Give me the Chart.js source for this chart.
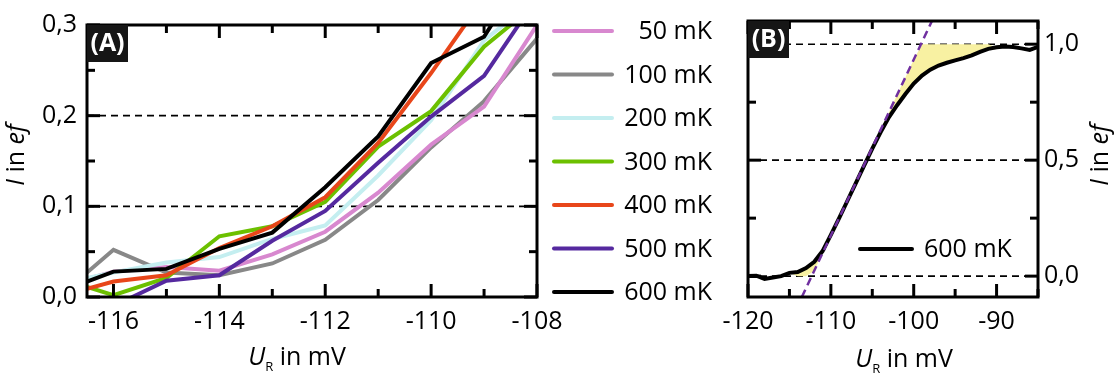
<!DOCTYPE html>
<html>
<head>
<meta charset="utf-8">
<script src="https://cdn.jsdelivr.net/npm/chart.js@4.4.0/dist/chart.umd.min.js"></script>
<style>
  html, body { margin: 0; padding: 0; background: #fff; }
  #wrap { position: relative; width: 1117px; height: 378px; overflow: hidden; }
  canvas { position: absolute; top: 0; }
  #chartA { left: 0; }
  #chartB { left: 690px; }
</style>
</head>
<body>
<div id="wrap">
  <canvas id="chartA" width="730" height="378"></canvas>
  <canvas id="chartB" width="427" height="378"></canvas>
</div>
<script>
// (A) current vs. reset voltage for several temperatures
const uA = [-116.5, -116, -115, -114, -113, -112, -111, -110, -109, -108];
const temps = ['50 mK', '100 mK', '200 mK', '300 mK', '400 mK', '500 mK', '600 mK'];
const i50  = [0.020, 0.028, 0.033, 0.029, 0.047, 0.072, 0.115, 0.168, 0.210, 0.300];
const i100 = [0.027, 0.052, 0.027, 0.024, 0.037, 0.063, 0.107, 0.165, 0.216, 0.285];
const i200 = [0.021, 0.027, 0.038, 0.044, 0.064, 0.079, 0.134, 0.195, 0.283, 0.330];
const i300 = [0.011, 0.002, 0.021, 0.067, 0.078, 0.105, 0.166, 0.205, 0.276, 0.324];
const i400 = [0.009, 0.017, 0.024, 0.054, 0.078, 0.110, 0.170, 0.247, 0.330, 0.420];
const i500 = [null, -0.010, 0.018, 0.024, 0.062, 0.095, 0.148, 0.199, 0.244, 0.330];
const i600A = [0.017, 0.028, 0.031, 0.053, 0.071, 0.121, 0.177, 0.258, 0.287, 0.380];
const seriesA = [i50, i100, i200, i300, i400, i500, i600A];
const majorXA = [-116, -114, -112, -110, -108];
const majorYA = [0, 0.1, 0.2, 0.3];

// (B) full step at 600 mK with linear fit
const uB = [-120, -119, -118, -117, -116, -115, -114, -113, -112, -111, -110, -109,
            -108, -107, -106, -105, -104, -103, -102, -101, -100, -99, -98, -97,
            -96, -95, -94, -93, -92, -91, -90, -89, -88, -87, -86, -85];
const i600B = [0.000, 0.002, -0.012, -0.006, 0.000, 0.014, 0.018, 0.035, 0.062, 0.108, 0.178, 0.250,
               0.325, 0.400, 0.475, 0.550, 0.620, 0.685, 0.737, 0.785, 0.830, 0.865, 0.890, 0.908,
               0.920, 0.930, 0.940, 0.952, 0.967, 0.980, 0.987, 0.990, 0.988, 0.982, 0.975, 0.988];
const fitU = [-113.5, -97.8];
const fitI = [-0.09, 1.1];
const shadeU = [-114, -91];
const majorXB = [-120, -110, -100, -90];
const majorYB = [0, 0.5, 1];

const colorsA = ['#d888cf', '#888888', '#c4eef0', '#6cc000', '#e8461a', '#55299f', '#000000'];
const drawOrder = [5, 6, 4, 3, 2, 1, 0];
const FONT = 'Open Sans';

const isIn = (list, v) => list.some(m => Math.abs(m - v) < 1e-6);
const decimal = v => v.toFixed(1).replace('.', ',');

function drawRich(ctx, parts, x, y, rotate) {
  ctx.save();
  ctx.translate(x, y);
  if (rotate) ctx.rotate(-Math.PI / 2);
  let w = 0;
  parts.forEach(p => { ctx.font = p.font; w += ctx.measureText(p.text).width; });
  let cx = -w / 2;
  ctx.textAlign = 'left';
  ctx.textBaseline = 'alphabetic';
  ctx.fillStyle = '#000';
  parts.forEach(p => {
    ctx.font = p.font;
    ctx.fillText(p.text, cx, p.dy || 0);
    cx += ctx.measureText(p.text).width;
  });
  ctx.restore();
}

const titleY = [
  {text: 'I', font: `italic 25px "${FONT}"`},
  {text: ' in ', font: `25px "${FONT}"`},
  {text: 'ef', font: `italic 25px "${FONT}"`}
];
const titleX = [
  {text: 'U', font: `italic 25px "${FONT}"`},
  {text: 'R', font: `13px "${FONT}"`, dy: 6},
  {text: ' in mV', font: `25px "${FONT}"`}
];

// frame, inward ticks, dashed reference lines, panel tag, axis titles, legend
const deco = {
  id: 'deco',
  beforeDatasetsDraw(chart, args, o) {
    const {ctx, chartArea: a} = chart;
    const y = chart.scales.y;
    ctx.save();
    ctx.strokeStyle = '#000';
    ctx.lineWidth = 1.6;
    ctx.setLineDash([7, 5]);
    o.dashAt.forEach(v => {
      const py = y.getPixelForValue(v);
      ctx.beginPath();
      ctx.moveTo(a.left, py);
      ctx.lineTo(a.right, py);
      ctx.stroke();
    });
    ctx.restore();
  },
  afterDatasetsDraw(chart, args, o) {
    const {ctx, chartArea: a} = chart;
    const x = chart.scales.x, y = chart.scales.y;
    ctx.save();
    ctx.strokeStyle = '#000';
    ctx.lineWidth = 3;
    ctx.strokeRect(a.left, a.top, a.right - a.left, a.bottom - a.top);
    const seg = (x1, y1, x2, y2) => { ctx.beginPath(); ctx.moveTo(x1, y1); ctx.lineTo(x2, y2); ctx.stroke(); };
    x.ticks.forEach(t => {
      const px = x.getPixelForValue(t.value);
      const len = isIn(o.majorX, t.value) ? 13 : 8;
      seg(px, a.bottom, px, a.bottom - len);
      seg(px, a.top, px, a.top + len);
    });
    y.ticks.forEach(t => {
      const py = y.getPixelForValue(t.value);
      const len = isIn(o.majorY, t.value) ? 13 : 8;
      seg(a.left, py, a.left + len, py);
      seg(a.right, py, a.right - len, py);
    });

    // panel tag
    ctx.fillStyle = '#161616';
    ctx.fillRect(a.left, a.top, 41, 37);
    ctx.fillStyle = '#fff';
    ctx.font = `bold 25px "${FONT}"`;
    ctx.textAlign = 'center';
    ctx.textBaseline = 'middle';
    ctx.fillText(o.tag, a.left + 20.5, a.top + 19);

    drawRich(ctx, titleX, o.xTitle[0], o.xTitle[1], false);
    drawRich(ctx, titleY, o.yTitle[0], o.yTitle[1], true);

    // legend entries
    ctx.font = `25px "${FONT}"`;
    ctx.textBaseline = 'middle';
    o.legend.forEach(e => {
      ctx.strokeStyle = e.color;
      ctx.lineWidth = 4;
      ctx.lineCap = 'round';
      seg(e.x0, e.y, e.x1, e.y);
      ctx.fillStyle = '#000';
      ctx.textAlign = e.align;
      ctx.fillText(e.text, e.tx, e.y + 1);
    });
    ctx.restore();
  }
};

const tickFont = {family: FONT, size: 25};

function scaleX(min, max, step, majors, height) {
  return {
    type: 'linear', position: 'bottom', min, max,
    grid: {display: false, drawTicks: false}, border: {display: false},
    ticks: {stepSize: step, includeBounds: false, autoSkip: false, maxRotation: 0,
            padding: 10, color: '#000', font: tickFont,
            callback: v => isIn(majors, v) ? String(Math.round(v)) : ''},
    afterFit: s => { s.height = height; }
  };
}

function scaleY(min, max, step, majors, pos, width, pad) {
  return {
    type: 'linear', position: pos, min, max,
    grid: {display: false, drawTicks: false}, border: {display: false},
    ticks: {stepSize: step, includeBounds: false, autoSkip: false,
            padding: pad, color: '#000', font: tickFont,
            callback: v => isIn(majors, v) ? decimal(v) : ''},
    afterFit: s => { s.width = width; }
  };
}

const pts = (us, vals) => us.map((u, i) => ({x: u, y: vals[i]})).filter(p => p.y !== null);

// panel A
new Chart(document.getElementById('chartA'), {
  type: 'line',
  data: {
    datasets: seriesA.map((vals, k) => ({
      label: temps[k],
      data: pts(uA, vals),
      borderColor: colorsA[k],
      borderWidth: 4,
      pointRadius: 0,
      tension: 0,
      fill: false,
      clip: 0,
      order: drawOrder[k]
    }))
  },
  options: {
    responsive: false,
    devicePixelRatio: 1,
    animation: false,
    layout: {padding: {top: 20, right: 193, left: 0, bottom: 0}},
    scales: {
      x: scaleX(-116.5, -108, 1, majorXA, 81),
      y: scaleY(0, 0.3, 0.05, majorYA, 'left', 87, 10)
    },
    plugins: {
      legend: {display: false},
      tooltip: {enabled: false},
      deco: {
        tag: '(A)', majorX: majorXA, majorY: majorYA, dashAt: [0.1, 0.2],
        xTitle: [297, 365], yTitle: [24, 155],
        legend: temps.map((t, k) => ({text: t, color: colorsA[k], x0: 554, x1: 612,
                                       y: 31 + k * 43.5, tx: 712, align: 'right'}))
      }
    }
  },
  plugins: [deco]
});

// panel B: shaded gap between the fit (limited to 0..1) and the measured curve
const fitSlope = (fitI[1] - fitI[0]) / (fitU[1] - fitU[0]);
const fitAt = u => fitI[0] + fitSlope * (u - fitU[0]);
const clamp01 = v => Math.min(1, Math.max(0, v));
const curveClamped = i600B.map(clamp01);
const shadeEdge = uB.map((u, i) => (u >= shadeU[0] && u <= shadeU[1]) ? clamp01(fitAt(u)) : curveClamped[i]);

new Chart(document.getElementById('chartB'), {
  type: 'line',
  data: {
    datasets: [
      {label: '600 mK', data: pts(uB, i600B), borderColor: '#000', borderWidth: 4,
       pointRadius: 0, tension: 0, fill: false, clip: 0, order: 1},
      {label: 'fit', data: pts(fitU, fitI), borderColor: '#7030a0', borderWidth: 2.5,
       borderDash: [8, 5], pointRadius: 0, fill: false, clip: 0, order: 0},
      {label: 'edge', data: pts(uB, shadeEdge), borderColor: 'rgba(0,0,0,0)', borderWidth: 0,
       pointRadius: 0, tension: 0, clip: 0, order: 2,
       fill: {target: 3, above: '#f8f1a2', below: '#f8f1a2'}},
      {label: 'curve', data: pts(uB, curveClamped), borderColor: 'rgba(0,0,0,0)', borderWidth: 0,
       pointRadius: 0, tension: 0, fill: false, clip: 0, order: 3}
    ]
  },
  options: {
    responsive: false,
    devicePixelRatio: 1,
    animation: false,
    layout: {padding: {top: 20, right: 0, left: 58, bottom: 0}},
    scales: {
      x: scaleX(-120, -85, 5, majorXB, 81),
      y: scaleY(-0.09, 1.1, 0.25, majorYB, 'right', 79, 6)
    },
    plugins: {
      legend: {display: false},
      tooltip: {enabled: false},
      deco: {
        tag: '(B)', majorX: majorXB, majorY: majorYB, dashAt: [0, 0.5, 1],
        xTitle: [214, 367], yTitle: [418, 155],
        legend: [{text: '600 mK', color: '#000', x0: 170, x1: 222, y: 249, tx: 234, align: 'left'}]
      }
    }
  },
  plugins: [deco]
});
</script>
</body>
</html>
